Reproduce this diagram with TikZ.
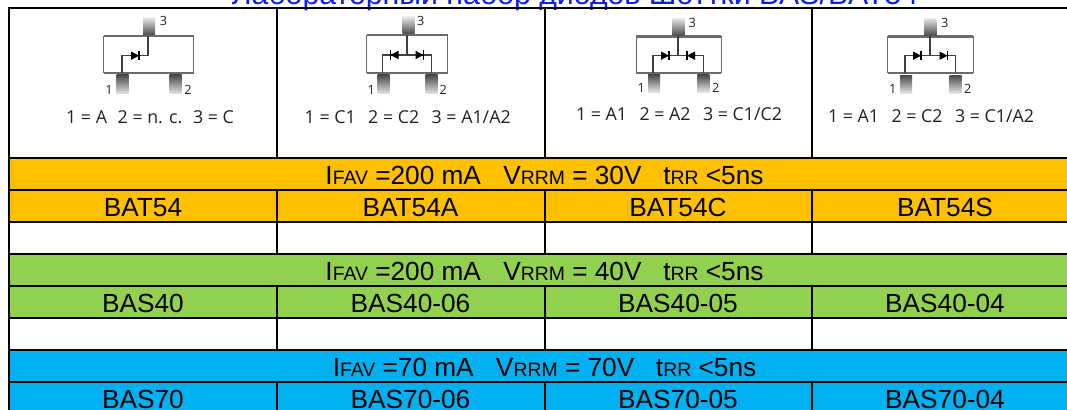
\documentclass[tikz,border=0pt]{standalone}
\usepackage{fontspec}
\setmainfont{Liberation Sans}
\newfontfamily\iconfont{Open Sans}
\definecolor{titleblue}{HTML}{0A1EF0}
\definecolor{rowamber}{HTML}{FFC000}
\definecolor{rowgreen}{HTML}{92D050}
\definecolor{rowblue}{HTML}{00B0F0}
\definecolor{icongray}{HTML}{6A6A6A}
\definecolor{icontext}{HTML}{222222}
\definecolor{pindark}{HTML}{4A4A4A}
\definecolor{pinmid}{HTML}{A0A0A0}
\definecolor{pinlight}{HTML}{E6E6E6}
\newcommand{\cellfs}{\fontsize{19.6bp}{22bp}\selectfont}
\newcommand{\subfs}{\fontsize{14.5bp}{16bp}\selectfont}
\newcommand{\specline}[2]{{\cellfs I{\subfs FAV} =#1 mA\hspace{0.85em}V{\subfs RRM} = #2V\hspace{0.55em} t{\subfs RR} <5ns}}
% package icon: x1 x2 body, xp1 xp2 xp3 pin left edges, top, bot, pin length
\newcommand{\pkgbody}[8]{%
  \draw[bodyside] (#1,#6) -- (#1,#7) (#2,#6) -- (#2,#7);
  \draw[bodyedge] (#1,#6) -- (#2,#6);
  \draw[bodyedge] (#1,#7) -- (#2,#7);
  \shade[top color=pinlight,middle color=pinmid,bottom color=pindark] (#5,#6-18) rectangle (#5+12,#6-1);
  \shade[top color=pindark,middle color=pinmid,bottom color=pinlight] (#3,#7+2) rectangle (#3+12,#7+#8);
  \shade[top color=pindark,middle color=pinmid,bottom color=pinlight] (#4,#7+2) rectangle (#4+12,#7+#8);
}
% diode: centre x, y, direction (+1 right, -1 left)
\newcommand{\diodeat}[3]{%
  \fill[black] (#1-4*#3,#2-4.2) -- (#1+4*#3,#2) -- (#1-4*#3,#2+4.2) -- cycle;
  \draw[wire,black] (#1+4*#3,#2-4.6) -- (#1+4*#3,#2+4.6);
}
\tikzset{
  x=0.75pt,y=-0.75pt,
  grid/.style={line width=1.5pt,black},
  bodyedge/.style={line width=1.7pt,icongray},
  bodyside/.style={line width=0.8pt,icongray},
  wire/.style={line width=0.8pt,icongray!60!black},
  celltext/.style={text=black,inner sep=0pt,anchor=base,font=\cellfs},
  icontextstyle/.style={text=icontext,inner sep=0pt,anchor=center,font=\iconfont\fontsize{13.3bp}{15bp}\selectfont},
  pinlabel/.style={text=icontext,inner sep=0pt,anchor=center,font=\iconfont\fontsize{9.5bp}{11bp}\selectfont},
}
\begin{document}
\begin{tikzpicture}
\useasboundingbox (0,0) rectangle (1067,410);
\fill[white] (0,0) rectangle (1067,410);
\begin{scope}
\clip (0,0) rectangle (1067,410);
\node[text=titleblue,inner sep=0pt,anchor=base,font=\fontsize{22.6bp}{25bp}\selectfont] (title) at (575,5) {Лабораторный набор диодов Шоттки BAS/BAT54};
% fills
\fill[rowamber] (9,158) rectangle (1067,222);
\fill[rowgreen] (9,254) rectangle (1067,318);
\fill[rowblue] (9,350) rectangle (1067,430);
% grid
\draw[grid] (9,8) -- (1067,8);
\foreach \yy in {158,222,254,318,350} \draw[grid] (9,\yy) -- (1067,\yy);
\foreach \yy in {190,286,382} \draw[grid] (9,\yy) -- (1067,\yy);
\draw[grid] (9,7) -- (9,410);
\foreach \xx in {277,544.5,812}{
  \draw[grid] (\xx,8) -- (\xx,158);
  \draw[grid] (\xx,190) -- (\xx,254);
  \draw[grid] (\xx,286) -- (\xx,350);
  \draw[grid] (\xx,382) -- (\xx,410);
}
% text rows
\node[celltext] (h1) at (544.5,184.3) {\specline{200}{30}};
\node[celltext] (h2) at (544.5,280.3) {\specline{200}{40}};
\node[celltext] (h3) at (544.5,376.6) {\specline{70}{70}};
\node[celltext] (a1) at (143,216.6) {BAT54};
\node[celltext] (a2) at (410.5,216.6) {BAT54A};
\node[celltext] (a3) at (678,216.6) {BAT54C};
\node[celltext] (a4) at (945,216.6) {BAT54S};
\node[celltext] (b1) at (143,312.6) {BAS40};
\node[celltext] (b2) at (410.5,312.6) {BAS40-06};
\node[celltext] (b3) at (678,312.6) {BAS40-05};
\node[celltext] (b4) at (945,312.6) {BAS40-04};
\node[celltext] (c1) at (143,408) {BAS70};
\node[celltext] (c2) at (410.5,408) {BAS70-06};
\node[celltext] (c3) at (678,408) {BAS70-05};
\node[celltext] (c4) at (945,408) {BAS70-04};
% icon 1
\pkgbody{103.7}{193.7}{116.5}{169.5}{143}{36}{73}{21}
\draw[wire] (122,73) -- (122,55.7) -- (148,55.7) -- (148,36);
\diodeat{135}{55.7}{1}
\node[pinlabel] (i1p3) at (163.5,21) {3};
\node[pinlabel] (i1p1) at (109,90) {1};
\node[pinlabel] (i1p2) at (188,90) {2};
\node[icontextstyle] (i1t) at (150,117) {1 = A\hspace{0.6em}2 = n. c.\hspace{0.6em}3 = C};
% icon 2
\pkgbody{366.7}{447.7}{377.7}{425.7}{402.5}{35}{73}{21}
\draw[wire] (407,35) -- (407,55) (382.7,73) -- (382.7,55) -- (431.7,55) -- (431.7,73);
\diodeat{394.5}{55}{-1}
\diodeat{419.5}{55}{1}
\node[pinlabel] (i2p3) at (420.7,20.7) {3};
\node[pinlabel] (i2p1) at (371.3,90) {1};
\node[pinlabel] (i2p2) at (443.3,90) {2};
\node[icontextstyle] (i2t) at (407.7,117) {1 = C1\hspace{0.7em}2 = C2\hspace{0.7em}3 = A1/A2};
% icon 3
\pkgbody{636.3}{721.3}{648}{697.3}{672.7}{36.5}{72.7}{19.5}
\draw[wire] (678,36.5) -- (678,55.7) (653,72.7) -- (653,55.7) -- (703.3,55.7) -- (703.3,72.7);
\diodeat{665}{55.7}{1}
\diodeat{691}{55.7}{-1}
\node[pinlabel] (i3p3) at (692.3,23) {3};
\node[pinlabel] (i3p1) at (641.3,87.7) {1};
\node[pinlabel] (i3p2) at (715.7,87.7) {2};
\node[icontextstyle] (i3t) at (679,114) {1 = A1\hspace{0.7em}2 = A2\hspace{0.7em}3 = C1/C2};
% icon 4
\pkgbody{887.7}{973.3}{900}{949.7}{924.7}{36.5}{73.3}{20}
\draw[wire] (930,36.5) -- (930,55.7) (905,73.3) -- (905,55.7) -- (955.7,55.7) -- (955.7,73.3);
\diodeat{917}{55.7}{1}
\diodeat{943.5}{55.7}{1}
\node[pinlabel] (i4p3) at (944.7,22.7) {3};
\node[pinlabel] (i4p1) at (892.7,89.3) {1};
\node[pinlabel] (i4p2) at (967.7,89.3) {2};
\node[icontextstyle] (i4t) at (931,115.7) {1 = A1\hspace{0.7em}2 = C2\hspace{0.7em}3 = C1/A2};
\end{scope}
\end{tikzpicture}
\end{document}
